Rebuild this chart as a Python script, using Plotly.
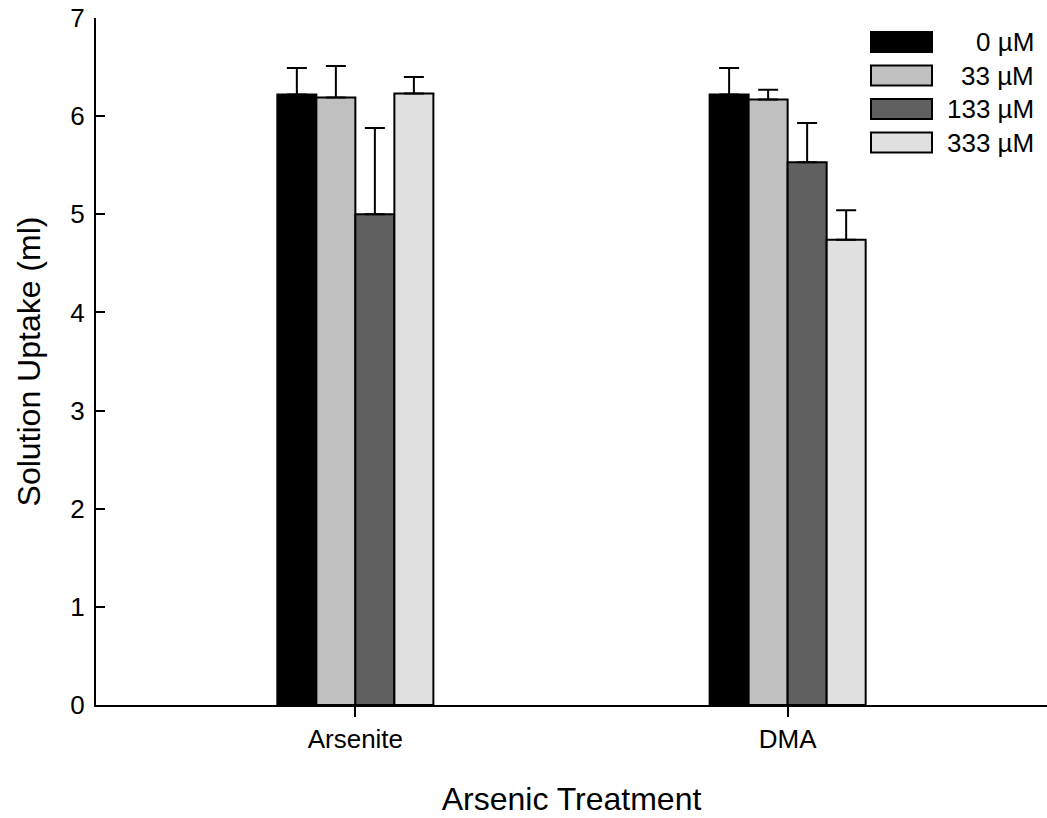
import plotly.graph_objects as go

# ---- data ----
categories = ["Arsenite", "DMA"]
series_names = ["0 µM", "33 µM", "133 µM", "333 µM"]
values = {
    "0 µM":   [6.22, 6.22],
    "33 µM":  [6.19, 6.17],
    "133 µM": [5.00, 5.53],
    "333 µM": [6.23, 4.74],
}
errors = {
    "0 µM":   [0.27, 0.27],
    "33 µM":  [0.32, 0.10],
    "133 µM": [0.88, 0.40],
    "333 µM": [0.17, 0.30],
}
colors = ["#000000", "#c0c0c0", "#606060", "#e0e0e0"]
y_ticks = [0, 1, 2, 3, 4, 5, 6, 7]

FONT = "Arial, Liberation Sans, Helvetica, sans-serif"
W, H = 1047, 818
ML, MR, MT, MB = 96, 0, 18, 113

fig = go.Figure()
for name, col in zip(series_names, colors):
    fig.add_trace(go.Bar(
        x=categories, y=values[name], name=name,
        marker=dict(color=col, line=dict(color="black", width=2)),
        error_y=dict(type="data", symmetric=False, array=errors[name],
                     arrayminus=[0] * len(categories),
                     color="black", thickness=2, width=10),
        showlegend=False,
    ))

# manual legend (wide swatches like the reference)
pw = W - ML - MR
ph = H - MT - MB
def px_x(x):
    return (x - ML) / pw
def px_y(y):
    return 1 - (y - MT) / ph

shapes = []
annotations = []
row0, row_step, box_h = 32, 33.5, 20
for i, (name, col) in enumerate(zip(series_names, colors)):
    top = row0 + i * row_step
    shapes.append(dict(type="rect", xref="paper", yref="paper",
                       x0=px_x(871), x1=px_x(932), y0=px_y(top + box_h), y1=px_y(top),
                       fillcolor=col, line=dict(color="black", width=2)))
    annotations.append(dict(xref="paper", yref="paper", x=px_x(1036), y=px_y(top + box_h / 2),
                            xanchor="right", yanchor="middle", text=name, showarrow=False,
                            font=dict(family=FONT, size=26, color="black")))

fig.update_layout(
    width=W, height=H,
    margin=dict(l=ML, r=MR, t=MT, b=MB, pad=0),
    paper_bgcolor="white", plot_bgcolor="white",
    barmode="group", bargap=0.639, bargroupgap=0,
    font=dict(family=FONT, size=26, color="black"),
    shapes=shapes, annotations=annotations,
    xaxis=dict(
        type="category", range=[-0.6, 1.6],
        showline=True, linecolor="black", linewidth=2,
        ticks="outside", ticklen=10, tickwidth=1.5, tickcolor="black",
        showgrid=False, zeroline=False,
        tickfont=dict(size=26),
        title=dict(text="Arsenic Treatment", font=dict(size=32), standoff=34),
        automargin=False,
    ),
    yaxis=dict(
        range=[0, 7], tickvals=y_ticks,
        showline=True, linecolor="black", linewidth=2,
        ticks="inside", ticklen=9, tickwidth=1.5, tickcolor="black",
        showgrid=False, zeroline=False,
        tickfont=dict(size=26), ticklabelstandoff=4,
        title=dict(text="Solution Uptake (ml)", font=dict(size=32), standoff=20),
        automargin=False,
    ),
)

fig.write_html("out.html")
